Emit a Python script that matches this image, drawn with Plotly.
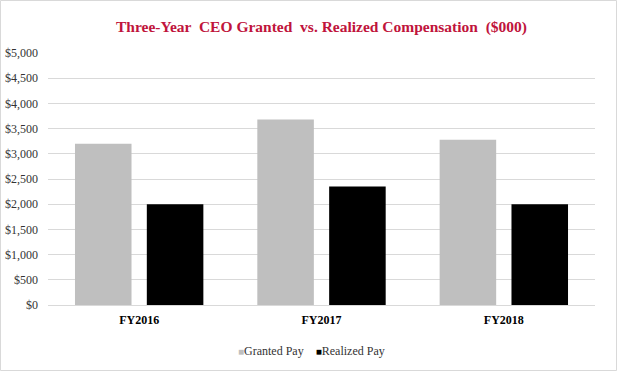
import plotly.graph_objects as go

categories = ["FY2016", "FY2017", "FY2018"]
granted_pay = [3200, 3680, 3280]
realized_pay = [2000, 2350, 2000]
y_ticks = [0, 500, 1000, 1500, 2000, 2500, 3000, 3500, 4000, 4500, 5000]
y_tick_labels = ["$0", "$500", "$1,000", "$1,500", "$2,000", "$2,500", "$3,000",
                 "$3,500", "$4,000", "$4,500", "$5,000"]
series_names = ["Granted Pay", "Realized Pay"]
series_colors = ["#bfbfbf", "#000000"]

W, H = 618, 372
ml, mr, mt, mb = 48, 23, 53, 67
SERIF = "Liberation Serif"

fig = go.Figure()
fig.add_trace(go.Bar(x=categories, y=granted_pay, name=series_names[0], showlegend=False,
                     marker=dict(color=series_colors[0], line=dict(width=0))))
fig.add_trace(go.Bar(x=categories, y=realized_pay, name=series_names[1], showlegend=False,
                     marker=dict(color=series_colors[1], line=dict(width=0))))

pw = W - ml - mr
ph = H - mt - mb

legend_text = "\u00a0\u00a0\u00a0\u00a0".join(
    f"<span style='color:{c};font-size:10px'>■</span>{n}"
    for n, c in zip(series_names, series_colors)
)

fig.update_layout(
    width=W, height=H,
    margin=dict(l=ml, r=mr, t=mt, b=mb, autoexpand=False),
    paper_bgcolor="white", plot_bgcolor="white",
    barmode="group", bargap=0.212, bargroupgap=0.213,
    font=dict(family=SERIF, color="#000000"),
    title=dict(text="<b>Three-Year  CEO Granted  vs. Realized Compensation  ($000)</b>",
               font=dict(size=15.5, color="#C0143C", family=SERIF),
               x=0.5, xref="paper", xanchor="center", y=1 - 27 / H, yanchor="middle"),
    xaxis=dict(showgrid=False, showline=False, ticks="", ticklabelstandoff=6,
               tickfont=dict(size=12, color="#000000", family=SERIF),
               tickprefix="<b>", ticksuffix="</b>"),
    yaxis=dict(range=[0, 5000], tickvals=y_ticks, ticktext=y_tick_labels,
               showgrid=True, gridcolor="#d9d9d9", gridwidth=1,
               zeroline=True, zerolinecolor="#d9d9d9", zerolinewidth=1,
               showline=False, ticks="", ticklabelstandoff=9,
               tickfont=dict(size=12, color="#333333", family=SERIF)),
    showlegend=False,
    annotations=[dict(text=legend_text, xref="paper", yref="paper",
                      x=(311 - ml) / pw, xanchor="center",
                      y=-(351 - mt - ph) / ph, yanchor="middle", showarrow=False,
                      font=dict(size=12, color="#333333", family=SERIF))],
)

fig.add_shape(type="rect", xref="paper", yref="paper",
              x0=-(ml - 0.5) / pw, x1=1 + (mr - 1.5) / pw,
              y0=-(mb - 1.5) / ph, y1=1 + (mt - 0.5) / ph,
              line=dict(color="#d9d9d9", width=1), fillcolor="rgba(0,0,0,0)", layer="below")

fig.write_html("out.html", config={"displayModeBar": False},
               post_script="document.body.style.margin='0';document.body.style.padding='0';")
